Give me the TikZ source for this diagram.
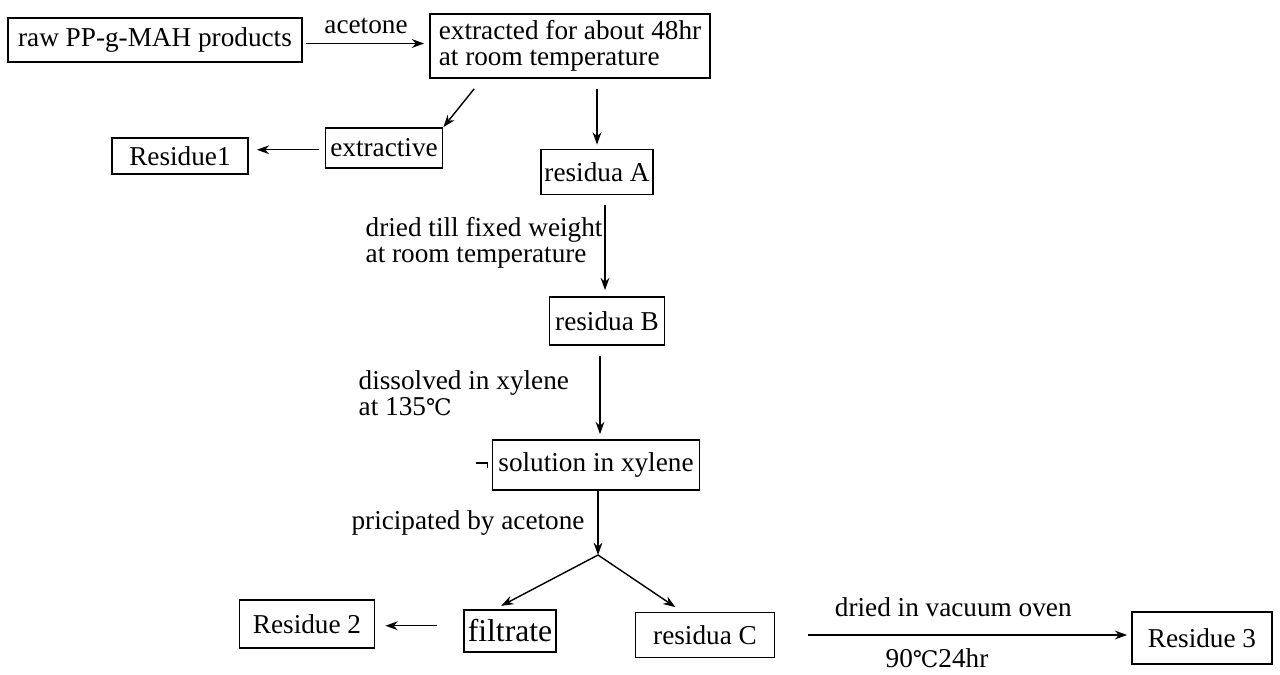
\documentclass[tikz,border=0pt]{standalone}
\usepackage{fontspec}
\setmainfont{Liberation Serif}
\newfontfamily\symfont{DejaVu Serif}
\usepackage{tikz}
\usetikzlibrary{arrows.meta, positioning}

\newcommand{\degC}{{\symfont\fontsize{13}{15}\selectfont ℃}}

\tikzset{
  box/.style={draw, line width=1pt, inner sep=2pt, font=\fontsize{15.5}{15}\selectfont},
  lbl/.style={inner sep=0pt, align=left, font=\fontsize{15.5}{15}\selectfont},
}

\begin{document}
\begin{tikzpicture}[x=0.02cm, y=-0.02cm, >={Stealth[length=7pt, width=5pt]}, line width=0.8pt]
        \useasboundingbox (0,0) rectangle (1280,675);

        \node[box, minimum width=5.88cm, minimum height=0.88cm] (raw) at (155,40) {raw PP-g-MAH products};
        \node[box, minimum width=5.6cm, minimum height=1.28cm, align=left] (ext) at (570,46) {extracted for about 48hr\\at room temperature};
        \node[box, minimum width=2.34cm, minimum height=0.8cm] (extv) at (384,148) {extractive};
        \node[box, minimum width=2.72cm, minimum height=0.72cm] (res1) at (180,156) {Residue1};
        \node[box, minimum width=2.08cm, minimum height=0.9cm] (resA) at (597,172) {residua A};
        \node[box, minimum width=2.3cm, minimum height=0.96cm] (resB) at (607,321) {residua B};
        \node[box, minimum width=4.14cm, minimum height=1.0cm] (sol) at (596,465) {solution in xylene};
        \coordinate (split) at (598,555);
        \node[box, minimum width=1.78cm, minimum height=0.84cm, font=\fontsize{18}{18}\selectfont] (filt) at (510,631) {filtrate};
        \node[box, minimum width=2.7cm, minimum height=0.96cm] (res2) at (307,624) {Residue 2};
        \node[box, minimum width=2.78cm, minimum height=0.9cm] (resC) at (705,635) {residua C};
        \node[box, minimum width=2.8cm, minimum height=1.04cm] (res3) at (1202,638) {Residue 3};

        % step texts
        \node[lbl, anchor=west] (dryA) at (365,243) {dried till fixed weight\\at room temperature};
        \node[lbl, anchor=west] (dissB) at (358,393) {dissolved in xylene\\at 135\degC};
        \node[lbl] (prec) at (468,523) {pricipated by acetone};
        \node[lbl, anchor=base] (oven) at (937,667) {90\degC24hr};

        \path[->]
        ([yshift=-2pt]raw.east) edge[shorten <=0.06cm, shorten >=0.1cm] node[lbl, above=5pt] {acetone} ([yshift=-2pt]raw.east -| ext.west)
        (ext.south west) ++(45,10) coordinate (e1) edge (extv.north east)
        (ext.south -| resA) ++(0,10) coordinate (e2) edge[shorten >=0.08cm] (resA)
        ([yshift=-1pt]extv.west) edge[shorten <=0.12cm, shorten >=0.16cm] ([yshift=-1pt]extv.west -| res1.east)
        (resA.south -| 605,0) ++(0,10) coordinate (a1) edge[shorten >=0.12cm] (resB.north -| 605,0)
        (resB.south -| 600,0) ++(0,10) coordinate (b1) edge[shorten >=0.1cm] (sol.north -| 600,0)
        (sol.south -| split) edge (split)
        (split) edge[shorten >=0.14cm] ([xshift=-0.3cm]filt.north)
        (split) edge[shorten >=0.16cm] ([xshift=-0.46cm]resC.north)
        ([yshift=3pt]filt.west) edge[shorten <=0.52cm, shorten >=0.2cm] ([yshift=3pt]filt.west -| res2.east)
        (resC.east) edge[shorten <=0.66cm, shorten >=0.08cm] node[lbl, above=10pt] {dried in vacuum oven} (resC.east -| res3.west);

        % stray tick left of the solution box
        \draw[line width=0.6pt] (sol.west) ++(-16,-2) -- ++(12,0) -- ++(0,5);
    \end{tikzpicture}
\end{document}
